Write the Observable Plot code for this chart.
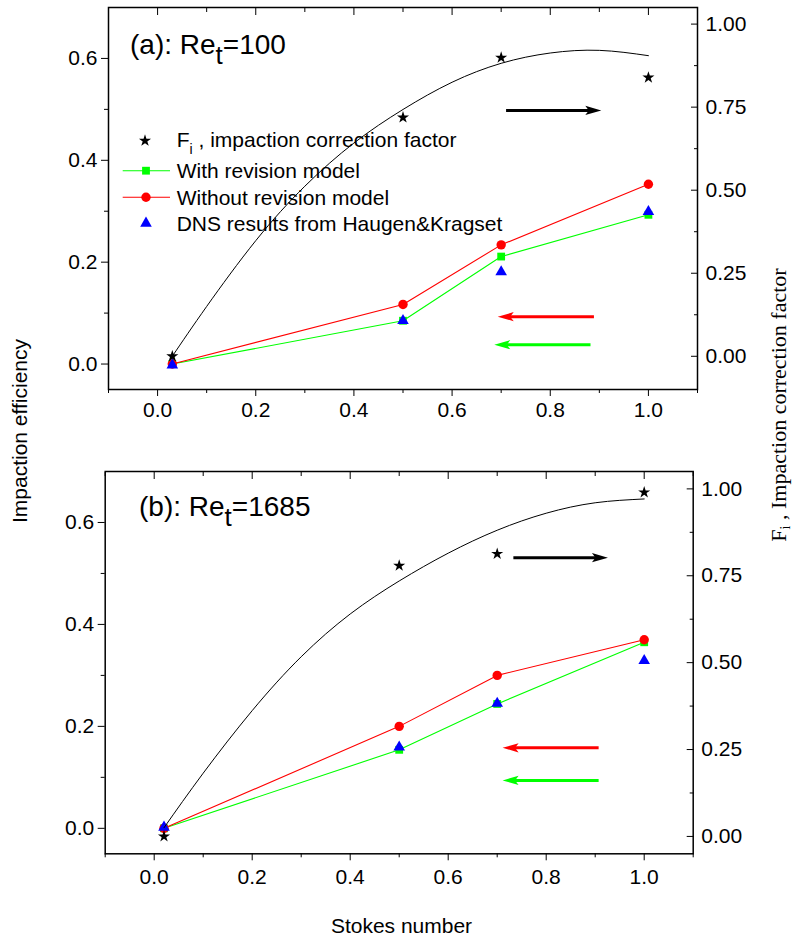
<!DOCTYPE html>
<html>
<head>
<meta charset="utf-8">
<script src="https://cdn.jsdelivr.net/npm/d3@7"></script>
<script src="https://cdn.jsdelivr.net/npm/@observablehq/plot@0.6"></script>
<style>
  html, body { margin: 0; padding: 0; background: #fff; }
  #wrap { position: relative; width: 796px; height: 941px; overflow: hidden; background: #fff; }
  #wrap > svg { position: absolute; left: 0; }
</style>
</head>
<body>
<div id="wrap"></div>
<script>
// ---------------- data ----------------
// Panel (a): Re_t = 100
const stokesA      = [0.03, 0.5, 0.7, 1.0];
const withRevA     = [0.000, 0.085, 0.211, 0.293];
const withoutRevA  = [0.000, 0.117, 0.234, 0.353];
const dnsA         = [-0.002, 0.085, 0.181, 0.299];
const fiA          = [0.000, 0.719, 0.899, 0.839];
const fitXA        = [0.03, 0.10, 0.20, 0.30, 0.40, 0.50, 0.60, 0.70, 0.80, 0.90, 1.00];
const fitYA        = [0.000, 0.150, 0.348, 0.512, 0.642, 0.743, 0.825, 0.882, 0.913, 0.921, 0.905];

// Panel (b): Re_t = 1685
const stokesB      = [0.02, 0.5, 0.7, 1.0];
const withRevB     = [0.000, 0.154, 0.244, 0.365];
const withoutRevB  = [0.000, 0.200, 0.300, 0.370];
const dnsB         = [0.002, 0.159, 0.245, 0.329];
const fiB          = [0.000, 0.779, 0.813, 0.990];
const fitXB        = [0.02, 0.10, 0.20, 0.30, 0.40, 0.50, 0.60, 0.70, 0.80, 0.90, 1.00];
const fitYB        = [0.025, 0.182, 0.362, 0.517, 0.640, 0.735, 0.815, 0.881, 0.930, 0.960, 0.971];

// axis-pointing arrows (tail x, tip x, level on the left axis)
const arrowColors  = ["black", "#ff0000", "#00ff00"];
const arrowTailA   = [0.710, 0.889, 0.882];
const arrowTipA    = [0.904, 0.693, 0.686];
const arrowLevelA  = [0.498, 0.093, 0.038];
const arrowTailB   = [0.733, 0.907, 0.907];
const arrowTipB    = [0.926, 0.711, 0.711];
const arrowLevelB  = [0.531, 0.158, 0.094];

// ticks
const xMajor  = [0, 0.2, 0.4, 0.6, 0.8, 1.0];
const xMinor  = [-0.1, 0.1, 0.3, 0.5, 0.7, 0.9, 1.1];
const yLMajor = [0, 0.2, 0.4, 0.6];
const yLMinor = [0.1, 0.3, 0.5];
const yRMajor = [0, 0.25, 0.5, 0.75, 1.0];
const yRMinor = [0.125, 0.375, 0.625, 0.875];

// texts
const legendLabels = ["With revision model", "Without revision model", "DNS results from Haugen&Kragset"];
const xTitle = "Stokes number";
const yTitle = "Impaction efficiency";

// ---------------- drawing ----------------
const W = 796;
const SANS = "'Liberation Sans', Arial, Helvetica, sans-serif";
const SERIF = "'Liberation Serif', 'Times New Roman', Times, serif";
const RED = "#ff0000", GREEN = "#00ff00", BLUE = "#0000ff";
const wrap = document.getElementById("wrap");

const arrowHead = {
  draw(ctx) {
    ctx.moveTo(0, 0);
    ctx.lineTo(-16, -4.6);
    ctx.lineTo(-12.5, 0);
    ctx.lineTo(-16, 4.6);
    ctx.closePath();
  }
};
const blank = () => "";

function panel(cfg) {
  const rows = cfg.stokes.map((x, i) => ({
    x, withRev: cfg.withRev[i], withoutRev: cfg.withoutRev[i], dns: cfg.dns[i], fi: cfg.fi[i]
  }));
  const fit = cfg.fitX.map((x, i) => ({x, y: cfg.fitY[i]}));
  const arrows = cfg.tail.map((x1, i) => ({x1, x2: cfg.tip[i], y: cfg.level[i], color: arrowColors[i]}));
  const common = {
    width: W, height: cfg.height,
    marginTop: cfg.mt, marginBottom: cfg.mb, marginLeft: cfg.ml, marginRight: cfg.mr,
    style: {fontFamily: SANS, fontSize: "21px", background: "transparent", color: "black", overflow: "visible"}
  };
  const left = Plot.plot({
    ...common,
    x: {domain: [-0.1, 1.1]},
    y: {domain: [-0.05, 0.7]},
    color: {type: "identity"},
    marks: [
      Plot.axisX(xMajor, {anchor: "bottom", tickSize: 7, tickPadding: cfg.xPad, tickFormat: d3.format(".1f"), label: null}),
      Plot.axisX(xMinor, {anchor: "bottom", tickSize: 4, tickFormat: blank, label: null}),
      Plot.axisX(xMajor, {anchor: "top", tickSize: -7, tickFormat: blank, label: null}),
      Plot.axisX(xMinor, {anchor: "top", tickSize: -4, tickFormat: blank, label: null}),
      Plot.axisY(yLMajor, {anchor: "left", tickSize: 7, tickPadding: 4, tickFormat: d3.format(".1f"), label: null}),
      Plot.axisY(yLMinor, {anchor: "left", tickSize: 4, tickFormat: blank, label: null}),
      Plot.line(rows, {x: "x", y: "withRev", stroke: GREEN, strokeWidth: 1.1}),
      Plot.dot(rows, {x: "x", y: "withRev", symbol: "square", r: 4.4, fill: GREEN}),
      Plot.line(rows, {x: "x", y: "withoutRev", stroke: RED, strokeWidth: 1.1}),
      Plot.dot(rows, {x: "x", y: "withoutRev", symbol: "circle", r: 4.7, fill: RED}),
      Plot.dot(rows, {x: "x", y: "dns", symbol: "triangle", r: 4.3, fill: BLUE}),
      Plot.arrow(arrows, {x1: "x1", x2: "x2", y1: "y", y2: "y", stroke: "color", strokeWidth: 3,
        headLength: 0, insetEnd: 12, strokeLinecap: "butt"}),
      Plot.dot(arrows, {x: "x2", y: "y", fill: "color", stroke: "none", symbol: arrowHead,
        rotate: d => (d.x2 > d.x1 ? 0 : 180)}),
      Plot.frame({stroke: "black", strokeWidth: 1.5})
    ]
  });
  const right = Plot.plot({
    ...common,
    x: {domain: [-0.1, 1.1], axis: null},
    y: {domain: cfg.rightDomain},
    marks: [
      Plot.axisY(yRMajor, {anchor: "right", tickSize: -7, tickFormat: blank, label: null}),
      Plot.axisY(yRMinor, {anchor: "right", tickSize: -4, tickFormat: blank, label: null}),
      Plot.axisY(yRMajor, {anchor: "right", tickSize: 0, tickPadding: 8, tickFormat: d3.format(".2f"), label: null}),
      Plot.line(fit, {x: "x", y: "y", curve: "natural", stroke: "black", strokeWidth: 1}),
      Plot.dot(rows, {x: "x", y: "fi", symbol: "star", r: 3.8, fill: "black"})
    ]
  });
  left.style.top = cfg.top + "px";
  right.style.top = cfg.top + "px";
  wrap.appendChild(left);
  wrap.appendChild(right);
}

panel({
  top: 0, height: 440, mt: 7, mb: 51, ml: 108, mr: 99, xPad: 6,
  rightDomain: [-0.1, 1.05],
  stokes: stokesA, withRev: withRevA, withoutRev: withoutRevA, dns: dnsA, fi: fiA,
  fitX: fitXA, fitY: fitYA, tail: arrowTailA, tip: arrowTipA, level: arrowLevelA
});
panel({
  top: 440, height: 470, mt: 31, mb: 56.7, ml: 104.7, mr: 103.3, xPad: 8,
  rightDomain: [-0.05, 1.05],
  stokes: stokesB, withRev: withRevB, withoutRev: withoutRevB, dns: dnsB, fi: fiB,
  fitX: fitXB, fitY: fitYB, tail: arrowTailB, tip: arrowTipB, level: arrowLevelB
});

// ---------------- text overlay: titles, legend, axis titles ----------------
const svg = d3.create("svg")
  .attr("width", 796).attr("height", 941)
  .style("top", "0px")
  .style("pointer-events", "none")
  .attr("font-family", SANS);

function title(x, y, head, sub, tail) {
  const t = svg.append("text").attr("x", x).attr("y", y).attr("font-size", 28).attr("fill", "black");
  t.append("tspan").text(head);
  t.append("tspan").attr("dy", 10).attr("font-size", 26).text(sub);
  t.append("tspan").attr("dy", -10).attr("font-size", 28).text(tail);
}
title(130, 53.5, "(a): Re", "t", "=100");
title(139, 516, "(b): Re", "t", "=1685");

// legend (panel a)
const lgX = 176.7, symX = 146;
{
  const t = svg.append("text").attr("x", lgX).attr("y", 147.3).attr("font-size", 21);
  t.append("tspan").text("F");
  t.append("tspan").attr("dy", 7).attr("font-size", 14).text("i");
  t.append("tspan").attr("dy", -7).text(" , impaction correction factor");
  svg.append("path").attr("d", d3.symbol(d3.symbolStar, Math.PI * 3.8 * 3.8)()).attr("fill", "black")
    .attr("transform", `translate(${symX - 1},140.7)`);
}
const rowsY = [170.7, 197.3, 223.3];
svg.append("line").attr("x1", 122.7).attr("x2", 170).attr("y1", rowsY[0]).attr("y2", rowsY[0]).attr("stroke", GREEN).attr("stroke-width", 1.1);
svg.append("path").attr("d", d3.symbol(d3.symbolSquare, Math.PI * 4.4 * 4.4)()).attr("fill", GREEN)
  .attr("transform", `translate(${symX},${rowsY[0]})`);
svg.append("line").attr("x1", 122.7).attr("x2", 170).attr("y1", rowsY[1]).attr("y2", rowsY[1]).attr("stroke", RED).attr("stroke-width", 1.1);
svg.append("path").attr("d", d3.symbol(d3.symbolCircle, Math.PI * 4.7 * 4.7)()).attr("fill", RED)
  .attr("transform", `translate(${symX},${rowsY[1]})`);
svg.append("path").attr("d", d3.symbol(d3.symbolTriangle, Math.PI * 4.3 * 4.3)()).attr("fill", BLUE)
  .attr("transform", `translate(${symX},${rowsY[2]})`);
legendLabels.forEach((s, i) => {
  svg.append("text").attr("x", lgX).attr("y", rowsY[i] + 7.6).attr("font-size", 21).text(s);
});

// axis titles
svg.append("text").attr("x", 401.5).attr("y", 933).attr("font-size", 21).attr("text-anchor", "middle").text(xTitle);
svg.append("text").attr("transform", "translate(26.7,431) rotate(-90)").attr("font-size", 21)
  .attr("text-anchor", "middle").text(yTitle);
{
  const t = svg.append("text").attr("transform", "translate(786,405) rotate(-90)")
    .attr("font-family", SERIF).attr("font-size", 22).attr("text-anchor", "middle");
  t.append("tspan").text("F");
  t.append("tspan").attr("dy", 4).attr("font-size", 14).text("i");
  t.append("tspan").attr("dy", -4).text(" , Impaction correction factor");
}
wrap.appendChild(svg.node());
</script>
</body>
</html>
